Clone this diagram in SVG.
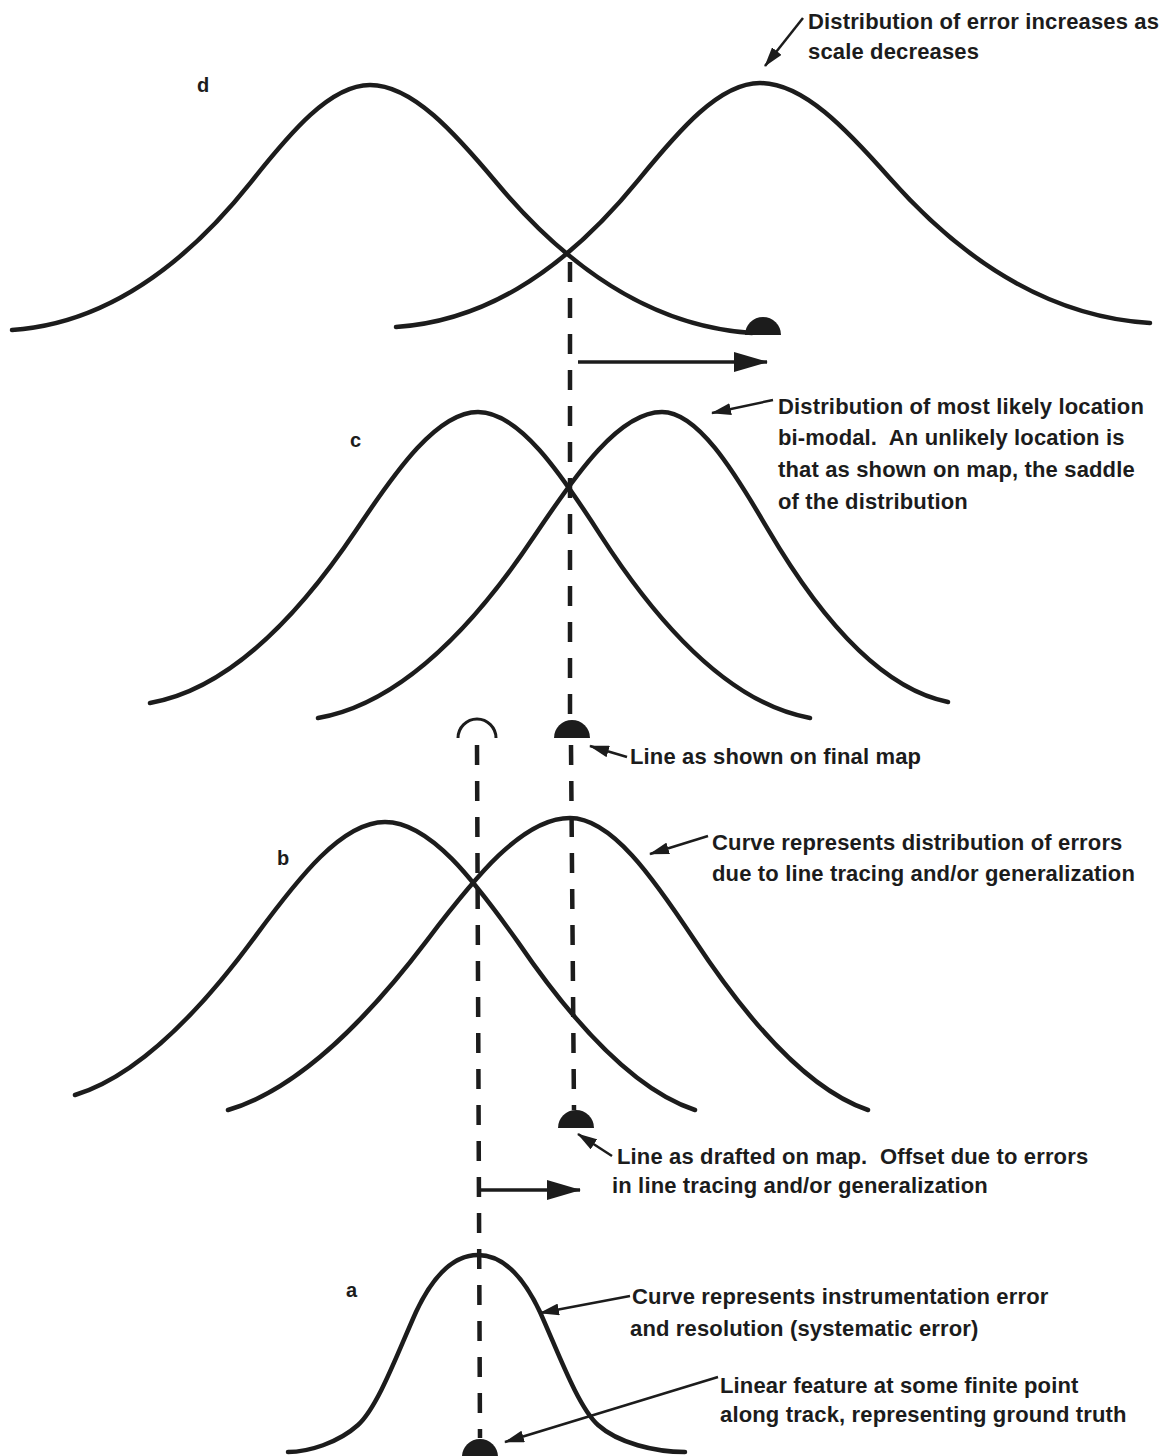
<svg xmlns="http://www.w3.org/2000/svg" width="1170" height="1456" viewBox="0 0 1170 1456">
<style>
.curve{fill:none;stroke:#1c1c1c;stroke-width:4.5;stroke-linecap:round;stroke-linejoin:round}
.dash{fill:none;stroke:#1c1c1c;stroke-width:4.5;stroke-dasharray:20 16;stroke-linecap:butt}
.arr{fill:none;stroke:#1c1c1c;stroke-width:2.5}
.harr{fill:none;stroke:#1c1c1c;stroke-width:3.5}
.mark{fill:#1c1c1c;stroke:none}
.open{fill:none;stroke:#1c1c1c;stroke-width:3}
text{font-family:"Liberation Sans",Arial,sans-serif;font-weight:bold;fill:#1c1c1c;white-space:pre}
.lbl{font-size:22px;letter-spacing:0.15px}
.let{font-size:20px}
</style>
<defs>
<marker id="big" viewBox="0 0 34 20" markerWidth="34" markerHeight="20" refX="33" refY="10" orient="auto" markerUnits="userSpaceOnUse">
<path d="M0,0 L34,10 L0,20 Z" fill="#1c1c1c"/>
</marker>
<marker id="small" viewBox="0 0 20 12" markerWidth="20" markerHeight="12" refX="19" refY="6" orient="auto" markerUnits="userSpaceOnUse">
<path d="M0,0 L20,6 L0,12 Z" fill="#1c1c1c"/>
</marker>
</defs>
<rect x="0" y="0" width="1170" height="1456" fill="#ffffff"/>

<g id="panel-d">
<text class="let" x="197" y="92">d</text>
<path class="curve" d="M12,330 C91.5,324.6 171,282.5 250.8,182.3 C290.5,132.3 330.3,85 370,85 C412.4,85 454.8,132.9 497.2,183.5 C582.4,284.9 667.2,327.5 752,333"/>
<path class="curve" d="M396,327 C476.8,321.6 557.3,279.7 638.5,179.9 C679.1,130.1 719.5,83 760,83 C803.3,83 846.6,129.3 889.9,178.3 C976.8,276.4 1063.4,317.7 1150,323"/>
<path class="mark" d="M745,335 A18,18 0 0 1 781,335 Z"/>
</g>

<g id="panel-c">
<text class="let" x="350" y="447">c</text>
<path class="curve" d="M150,703 C218.9,691.1 287.8,632.3 356.6,529.6 C397,469 437.7,412 478,412 C518.8,412 560,472 600.8,535.6 C670.6,643.6 740.3,705.5 810,718"/>
<path class="curve" d="M318,718 C390.2,705.5 462.5,643.6 534.7,535.6 C577.2,472 619.8,412 662,412 C697.2,412 732.6,468.8 767.8,529.2 C827.9,631.5 887.9,690.1 948,702"/>
<path class="mark" d="M554,738 A18,18 0 0 1 590,738 Z"/>
<path class="open" d="M458,738 A19,19 0 0 1 496,738"/>
</g>

<g id="panel-b">
<text class="let" x="277" y="865">b</text>
<path class="curve" d="M75,1095 C135.4,1076.7 195.6,1017.7 255.7,935.8 C298.8,877.4 341.9,822 385,822 C430,822 474,880.5 518,942.1 C577,1028.5 636,1090.7 695,1110"/>
<path class="curve" d="M228,1110 C294.7,1090.4 361,1027.4 427.4,939.8 C474.9,877.3 522.5,818 570,818 C611.4,818 652.8,877.3 694.3,939.8 C752.1,1027.4 809.9,1090.4 868,1110"/>
<path class="mark" d="M558,1128 A18,18 0 0 1 594,1128 Z"/>
</g>

<g id="panel-a">
<text class="let" x="346" y="1297">a</text>
<path class="curve" d="M288,1452 C308,1452 338,1443 358,1425 C378,1407 398,1352 416,1312 C432,1278 452,1255 478,1255 C504,1255 524,1278 540,1312 C558,1352 578,1407 598,1425 C618,1443 655,1452 685,1452"/>
<path class="mark" d="M462,1457 A18,18 0 0 1 498,1457 Z"/>
</g>

<g id="connectors">
<path class="dash" d="M570,262 L570,720"/>
<path class="dash" d="M571,745 L574,1110"/>
<path class="dash" d="M477,745 L480,1438"/>
<path class="harr" d="M578,362 L767,362" marker-end="url(#big)"/>
<path class="harr" d="M478,1190 L580,1190" marker-end="url(#big)"/>
<path class="arr" d="M803,18 L765,66" marker-end="url(#small)"/>
<path class="arr" d="M773,400 L712,413" marker-end="url(#small)"/>
<path class="arr" d="M627,757 L590,746" marker-end="url(#small)"/>
<path class="arr" d="M708,836 L650,854" marker-end="url(#small)"/>
<path class="arr" d="M612,1156 L578,1134" marker-end="url(#small)"/>
<path class="arr" d="M630,1296 L540,1313" marker-end="url(#small)"/>
<path class="arr" d="M718,1377 L505,1442" marker-end="url(#small)"/>
</g>

<g id="label-d">
<text class="lbl" x="808" y="29">Distribution of error increases as</text>
<text class="lbl" x="808" y="59">scale decreases</text>
</g>
<g id="label-c">
<text class="lbl" x="778" y="414">Distribution of most likely location</text>
<text class="lbl" x="778" y="445">bi-modal.  An unlikely location is</text>
<text class="lbl" x="778" y="477">that as shown on map, the saddle</text>
<text class="lbl" x="778" y="509">of the distribution</text>
</g>
<g id="label-final">
<text class="lbl" x="630" y="764">Line as shown on final map</text>
</g>
<g id="label-b">
<text class="lbl" x="712" y="850">Curve represents distribution of errors</text>
<text class="lbl" x="712" y="881">due to line tracing and/or generalization</text>
</g>
<g id="label-drafted">
<text class="lbl" x="617" y="1164">Line as drafted on map.  Offset due to errors</text>
<text class="lbl" x="612" y="1193">in line tracing and/or generalization</text>
</g>
<g id="label-a">
<text class="lbl" x="632" y="1304">Curve represents instrumentation error</text>
<text class="lbl" x="630" y="1336">and resolution (systematic error)</text>
</g>
<g id="label-truth">
<text class="lbl" x="720" y="1393">Linear feature at some finite point</text>
<text class="lbl" x="720" y="1422">along track, representing ground truth</text>
</g>
</svg>
